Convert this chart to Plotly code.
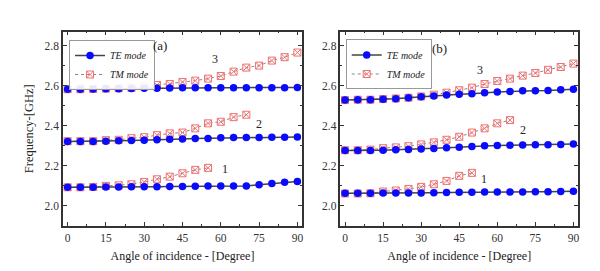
import plotly.graph_objects as go

angles = list(range(0, 95, 5))

# Panel (a)
a_te1 = [2.093, 2.093, 2.093, 2.094, 2.095, 2.096, 2.096, 2.096, 2.097, 2.097, 2.098, 2.099, 2.100, 2.100, 2.100, 2.106, 2.112, 2.118, 2.122]
a_tm1 = [2.093, 2.093, 2.095, 2.100, 2.103, 2.108, 2.120, 2.133, 2.146, 2.163, 2.180, 2.190]
a_te2 = [2.322, 2.322, 2.322, 2.323, 2.325, 2.327, 2.328, 2.330, 2.333, 2.334, 2.336, 2.337, 2.340, 2.341, 2.342, 2.342, 2.343, 2.343, 2.344]
a_tm2 = [2.323, 2.323, 2.323, 2.328, 2.330, 2.338, 2.343, 2.353, 2.362, 2.366, 2.387, 2.412, 2.420, 2.443, 2.455]
a_te3 = [2.582, 2.582, 2.583, 2.584, 2.585, 2.586, 2.587, 2.587, 2.588, 2.589, 2.590, 2.590, 2.590, 2.590, 2.590, 2.590, 2.590, 2.590, 2.591]
a_tm3 = [2.582, 2.582, 2.583, 2.585, 2.587, 2.589, 2.596, 2.603, 2.608, 2.618, 2.625, 2.635, 2.648, 2.670, 2.690, 2.700, 2.725, 2.742, 2.765]

# Panel (b)
b_te1 = [2.063, 2.063, 2.063, 2.064, 2.064, 2.065, 2.065, 2.066, 2.067, 2.068, 2.068, 2.069, 2.069, 2.070, 2.070, 2.071, 2.071, 2.072, 2.073]
b_tm1 = [2.062, 2.062, 2.063, 2.072, 2.077, 2.085, 2.095, 2.108, 2.125, 2.150, 2.165]
b_te2 = [2.276, 2.276, 2.277, 2.278, 2.280, 2.282, 2.284, 2.287, 2.290, 2.293, 2.296, 2.300, 2.301, 2.303, 2.304, 2.305, 2.305, 2.307, 2.309]
b_tm2 = [2.278, 2.278, 2.281, 2.288, 2.292, 2.298, 2.307, 2.317, 2.330, 2.345, 2.366, 2.387, 2.412, 2.428]
b_te3 = [2.528, 2.530, 2.530, 2.532, 2.535, 2.540, 2.545, 2.548, 2.553, 2.557, 2.560, 2.565, 2.568, 2.571, 2.574, 2.575, 2.576, 2.580, 2.582]
b_tm3 = [2.528, 2.530, 2.530, 2.533, 2.536, 2.540, 2.546, 2.555, 2.565, 2.577, 2.590, 2.608, 2.623, 2.635, 2.650, 2.663, 2.679, 2.693, 2.710]

mode_labels = ["1", "2", "3"]
a_label_pos = [(61.8, 2.183), (74.9, 2.411), (57.6, 2.733)]
b_label_pos = [(54.8, 2.133), (70.0, 2.377), (53.1, 2.677)]
panel_tags = ["(a)", "(b)"]

FONT = "Liberation Serif, Times New Roman, serif"
TE_COLOR = "#0a0aff"
TM_COLOR = "#f07070"
AX = "#333333"

fig = go.Figure()

def add_panel(te_list, tm_list, xa, ya, legend):
    for i, tm in enumerate(tm_list):
        fig.add_trace(go.Scatter(
            x=angles[:len(tm)], y=tm, mode="lines+markers",
            line=dict(color="#888888", width=1, dash="dot"),
            marker=dict(symbol="square-x-open", size=7, color=TM_COLOR, line=dict(width=1)),
            name="<i>TM mode</i>", legend=legend, legendrank=2, showlegend=(i == 0),
            xaxis=xa, yaxis=ya))
    for i, te in enumerate(te_list):
        fig.add_trace(go.Scatter(
            x=angles[:len(te)], y=te, mode="lines+markers",
            line=dict(color="#444444", width=1.5),
            marker=dict(symbol="circle", size=7.5, color=TE_COLOR),
            name="<i>TE mode</i>", legend=legend, legendrank=1, showlegend=(i == 0),
            xaxis=xa, yaxis=ya))

add_panel([a_te1, a_te2, a_te3], [a_tm1, a_tm2, a_tm3], "x", "y", "legend")
add_panel([b_te1, b_te2, b_te3], [b_tm1, b_tm2, b_tm3], "x2", "y2", "legend2")

annotations = []
for (lx, ly), t in zip(a_label_pos, mode_labels):
    annotations.append(dict(x=lx, y=ly, xref="x", yref="y", text=t, showarrow=False,
                            font=dict(family=FONT, size=12, color="#222")))
for (lx, ly), t in zip(b_label_pos, mode_labels):
    annotations.append(dict(x=lx, y=ly, xref="x2", yref="y2", text=t, showarrow=False,
                            font=dict(family=FONT, size=12, color="#222")))
annotations.append(dict(x=36.1, y=2.8, xref="x", yref="y", text=panel_tags[0], showarrow=False,
                        font=dict(family=FONT, size=13, color="#222")))
annotations.append(dict(x=37.4, y=2.783, xref="x2", yref="y2", text=panel_tags[1], showarrow=False,
                        font=dict(family=FONT, size=13, color="#222")))

xcommon = dict(range=[-1.8, 91.8], tickmode="linear", tick0=0, dtick=15,
               ticks="inside", ticklen=4, tickwidth=1, tickcolor=AX,
               minor=dict(ticks="inside", ticklen=2, dtick=7.5, tickcolor=AX),
               showline=True, linecolor=AX, linewidth=1.5, mirror="ticks",
               showgrid=False, zeroline=False, automargin=False,
               tickfont=dict(family=FONT, size=11.5, color="#333"),
               title=dict(text="Angle of incidence - [Degree]", standoff=14,
                          font=dict(family=FONT, size=12, color="#222")))
ycommon = dict(range=[1.9, 2.87], tickmode="linear", tick0=2.0, dtick=0.2, tickformat=".1f",
               ticks="inside", ticklen=4, tickwidth=1, tickcolor=AX,
               minor=dict(ticks="inside", ticklen=2, dtick=0.1, tickcolor=AX),
               showline=True, linecolor=AX, linewidth=1.5, mirror="ticks",
               showgrid=False, zeroline=False, automargin=False,
               tickfont=dict(family=FONT, size=11.5, color="#333"))

legend_style = dict(bgcolor="rgba(255,255,255,0.9)", bordercolor="#999", borderwidth=1,
                    font=dict(family=FONT, size=10, color="#222"),
                    xanchor="left", yanchor="top", tracegroupgap=0,
                    itemwidth=30)

# The page body adds an 8px margin, so the figure is sized to fit inside it.
fig.update_layout(
    width=584, height=255,
    margin=dict(l=0, r=0, t=0, b=0),
    plot_bgcolor="white", paper_bgcolor="white",
    xaxis=dict(domain=[0.0942, 0.5034], anchor="y", **xcommon),
    yaxis=dict(domain=[0.1451, 0.9078], anchor="x",
               title=dict(text="Frequency-[GHz]", standoff=8,
                          font=dict(family=FONT, size=12.5, color="#222")), **ycommon),
    xaxis2=dict(domain=[0.5693, 0.976], anchor="y2", **xcommon),
    yaxis2=dict(domain=[0.1451, 0.9078], anchor="x2", **ycommon),
    legend=dict(x=0.1045, y=0.8745, **legend_style),
    legend2=dict(x=0.5783, y=0.8765, **legend_style),
    annotations=annotations,
    showlegend=True,
)

fig.write_html("out.html")
